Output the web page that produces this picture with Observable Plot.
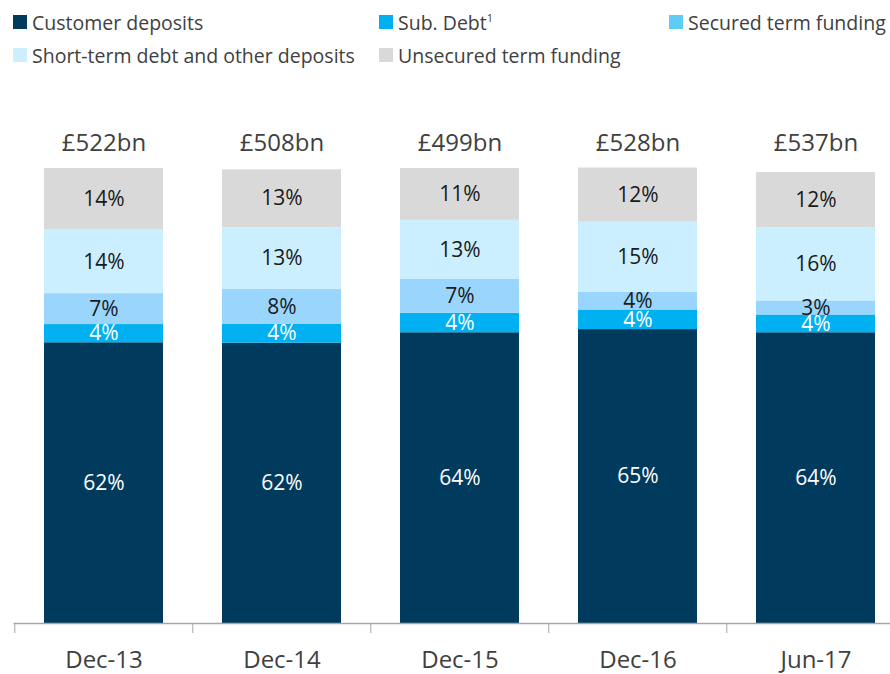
<!DOCTYPE html>
<html>
<head>
<meta charset="utf-8">
<script src="https://cdn.jsdelivr.net/npm/d3@7"></script>
<script src="https://cdn.jsdelivr.net/npm/@observablehq/plot@0.6"></script>
<style>
  body { margin: 0; background: #fff; font-family: "Open Sans", sans-serif; }
  #legend { position: relative; width: 890px; height: 70px; }
  .item { position: absolute; display: flex; align-items: center; font-size: 19.5px; color: #404040; white-space: nowrap; height: 24px; }
  .sw { width: 14px; height: 14px; margin-right: 5px; flex: none; }
  sup { font-size: 11px; vertical-align: 8px; }
</style>
</head>
<body>
<div id="legend"></div>
<div id="chart"></div>
<script>
const periods = ["Dec-13", "Dec-14", "Dec-15", "Dec-16", "Jun-17"];
const totals = ["£522bn", "£508bn", "£499bn", "£528bn", "£537bn"];
const series = ["Customer deposits", "Sub. Debt", "Secured term funding", "Short-term debt and other deposits", "Unsecured term funding"];
const colors = ["#003a5d", "#00b0f0", "#99d5fc", "#ccefff", "#d9d9d9"];
const legendColors = ["#003a5d", "#00b0f0", "#5fcbf7", "#ccefff", "#d9d9d9"];
// shares (%); labels as printed
const customerDeposits = [61.7, 61.6, 63.9, 64.6, 63.9];
const subDebt          = [4.0, 4.2, 4.3, 4.3, 3.9];
const securedTerm      = [6.8, 7.6, 7.4, 3.9, 3.1];
const shortTerm        = [14.0, 13.6, 13.0, 15.4, 16.1];
const unsecuredTerm    = [13.5, 12.7, 11.4, 11.9, 12.1];
const customerLabels  = ["62%", "62%", "64%", "65%", "64%"];
const subDebtLabels   = ["4%", "4%", "4%", "4%", "4%"];
const securedLabels   = ["7%", "8%", "7%", "4%", "3%"];
const shortLabels     = ["14%", "13%", "13%", "15%", "16%"];
const unsecuredLabels = ["14%", "13%", "11%", "12%", "12%"];

const values = [customerDeposits, subDebt, securedTerm, shortTerm, unsecuredTerm];
const labels = [customerLabels, subDebtLabels, securedLabels, shortLabels, unsecuredLabels];
const dark = new Set(["Customer deposits", "Sub. Debt"]);

const data = [];
periods.forEach((p, i) => {
  series.forEach((s, j) => data.push({period: p, series: s, value: values[j][i], label: labels[j][i]}));
});
const totalData = periods.map((p, i) => ({period: p, total: totals[i]}));

// legend
const legendPos = [
  {col: 13, row: 10}, {col: 379, row: 10}, {col: 669, row: 10},
  {col: 13, row: 43}, {col: 379, row: 43}
];
const legend = document.getElementById("legend");
series.forEach((s, j) => {
  const el = document.createElement("div");
  el.className = "item";
  el.style.left = legendPos[j].col + "px";
  el.style.top = legendPos[j].row + "px";
  const sw = document.createElement("span");
  sw.className = "sw";
  sw.style.background = legendColors[j];
  el.appendChild(sw);
  const t = document.createElement("span");
  t.innerHTML = s === "Sub. Debt" ? "Sub. Debt<sup>1</sup>" : s;
  el.appendChild(t);
  legend.appendChild(el);
});

const stackOpts = {x: "period", y: "value", z: "series"};
const chart = Plot.plot({
  width: 890,
  height: 604,
  marginTop: 98,
  marginBottom: 51,
  marginLeft: 13.6,
  marginRight: 0,
  style: {fontFamily: "Open Sans, sans-serif", background: "#fff"},
  x: {domain: periods, range: [13.6, 905.6], paddingInner: 0.333, paddingOuter: 0.1665, align: 0.5},
  y: {domain: [0, 100], axis: null},
  color: {domain: series, range: colors},
  marks: [
    Plot.barY(data, Plot.stackY({...stackOpts, fill: "series"})),
    Plot.text(data, Plot.stackY({...stackOpts, text: d => dark.has(d.series) ? d.label : "", fill: "white", fontSize: 21})),
    Plot.text(data, Plot.stackY({...stackOpts, text: d => dark.has(d.series) ? "" : d.label, fill: "#1a1a1a", fontSize: 21})),
    Plot.text(totalData, {x: "period", text: "total", frameAnchor: "top", lineAnchor: "middle", dy: -25, fontSize: 24, fill: "#404040"}),
    Plot.ruleY([0], {stroke: "#a6a6a6", strokeWidth: 1.3}),
    Plot.axisX({tickSize: 10, dx: -89.2, tickFormat: () => "", stroke: "#a6a6a6", label: null}),
    Plot.axisX({tickSize: 0, tickPadding: 27, fontSize: 24, fill: "#404040", label: null})
  ]
});
document.getElementById("chart").appendChild(chart);
</script>
</body>
</html>
